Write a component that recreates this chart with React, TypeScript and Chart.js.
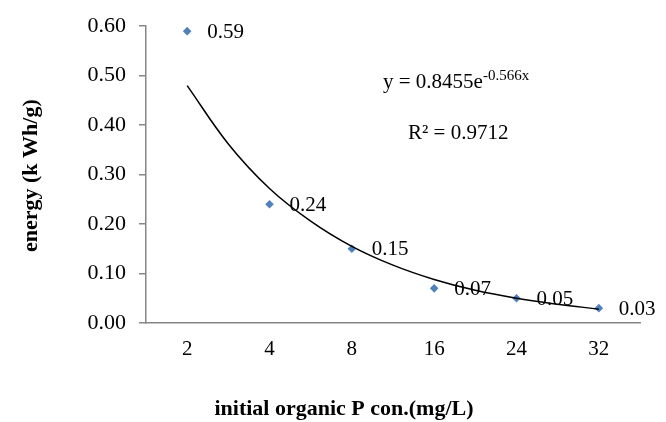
import React, { useEffect, useRef } from 'react';
import { Chart, registerables } from 'chart.js';

Chart.register(...registerables);

// ---- data ----
const categories: string[] = ['2', '4', '8', '16', '24', '32'];
const energyValues: number[] = [0.59, 0.24, 0.15, 0.07, 0.05, 0.03];
const pointLabels: string[] = ['0.59', '0.24', '0.15', '0.07', '0.05', '0.03'];
// exponential trendline, read at category positions (1..6) and halfway between them
const trendX: number[] = [1, 1.5, 2, 2.5, 3, 3.5, 4, 4.5, 5, 5.5, 6];
const trendY: number[] = [0.48, 0.362, 0.272, 0.206, 0.155, 0.117, 0.088, 0.066, 0.05, 0.038, 0.028];
const yMin = 0;
const yMax = 0.6;
const yStep = 0.1;
const equationMain = 'y = 0.8455e';
const equationExp = '-0.566x';
const rSquaredText = 'R² = 0.9712';
const xTitle = 'initial organic P con.(mg/L)';
const yTitle = 'energy (k Wh/g)';

const FONT = '"Liberation Serif", "Times New Roman", serif';
const AXIS = '#868686';

const textPlugin = {
  id: 'extraTexts',
  afterDatasetsDraw(chart: any) {
    const { ctx, chartArea } = chart;
    const meta = chart.getDatasetMeta(1);
    ctx.save();
    ctx.fillStyle = '#000';
    ctx.textBaseline = 'middle';
    ctx.textAlign = 'left';
    ctx.font = `21px ${FONT}`;
    meta.data.forEach((pt: any, i: number) => {
      ctx.fillText(pointLabels[i], pt.x + 20, pt.y + 1);
    });

    // equation
    const ex = chartArea.left + 237;
    const ey = 82;
    ctx.font = `21px ${FONT}`;
    ctx.fillText(equationMain, ex, ey);
    const w = ctx.measureText(equationMain).width;
    ctx.font = `15px ${FONT}`;
    ctx.fillText(equationExp, ex + w, ey - 6);
    ctx.font = `21px ${FONT}`;
    ctx.fillText(rSquaredText, chartArea.left + 262, 133);

    // axis titles
    ctx.font = `bold 22px ${FONT}`;
    ctx.textAlign = 'center';
    ctx.fillText(xTitle, 344, 409);
    ctx.save();
    ctx.translate(31, (chartArea.top + chartArea.bottom) / 2 + 1);
    ctx.rotate(-Math.PI / 2);
    ctx.fillText(yTitle, 0, 0);
    ctx.restore();
    ctx.restore();
  },
};

export default function App() {
  const ref = useRef<HTMLCanvasElement | null>(null);

  useEffect(() => {
    if (!ref.current) return;
    const chart = new Chart(ref.current, {
      type: 'line',
      data: {
        labels: categories,
        datasets: [
          {
            label: 'trend',
            data: trendX.map((x, i) => ({ x, y: trendY[i] })),
            xAxisID: 'xt',
            borderColor: '#000',
            borderWidth: 1.5,
            pointRadius: 0,
            tension: 0.4,
            fill: false,
          },
          {
            label: 'energy',
            data: energyValues,
            xAxisID: 'x',
            showLine: false,
            pointStyle: 'rectRot',
            pointRadius: 4.3,
            pointBackgroundColor: '#4F81BD',
            pointBorderColor: '#4F81BD',
            pointBorderWidth: 0,
          },
        ],
      },
      options: {
        responsive: false,
        animation: false,
        layout: { padding: { top: 22, right: 26, left: 0, bottom: 0 } },
        plugins: {
          legend: { display: false },
          tooltip: { enabled: false },
        },
        scales: {
          x: {
            type: 'category',
            offset: true,
            grid: { display: false, drawTicks: false },
            border: { display: true, color: AXIS, width: 1.5 },
            ticks: { padding: 14, color: '#000', font: { family: FONT, size: 21 } },
            afterFit: (s: any) => {
              s.height = 99;
            },
          },
          xt: {
            type: 'linear',
            display: false,
            min: 0.5,
            max: 6.5,
          },
          y: {
            min: yMin,
            max: yMax,
            ticks: {
              stepSize: yStep,
              padding: 13,
              color: '#000',
              font: { family: FONT, size: 22 },
              callback: (v: any) => Number(v).toFixed(2),
            },
            grid: { drawOnChartArea: false, tickLength: 7, color: AXIS, lineWidth: 1.5 },
            border: { display: true, color: AXIS, width: 1.5 },
            afterFit: (s: any) => {
              s.width = 146;
            },
          },
        },
      },
      plugins: [textPlugin],
    } as any);
    return () => chart.destroy();
  }, []);

  return (
    <div style={{ position: 'absolute', left: 0, top: 0, width: 666, height: 422, background: '#fff' }}>
      <canvas ref={ref} width={666} height={422} />
    </div>
  );
}
